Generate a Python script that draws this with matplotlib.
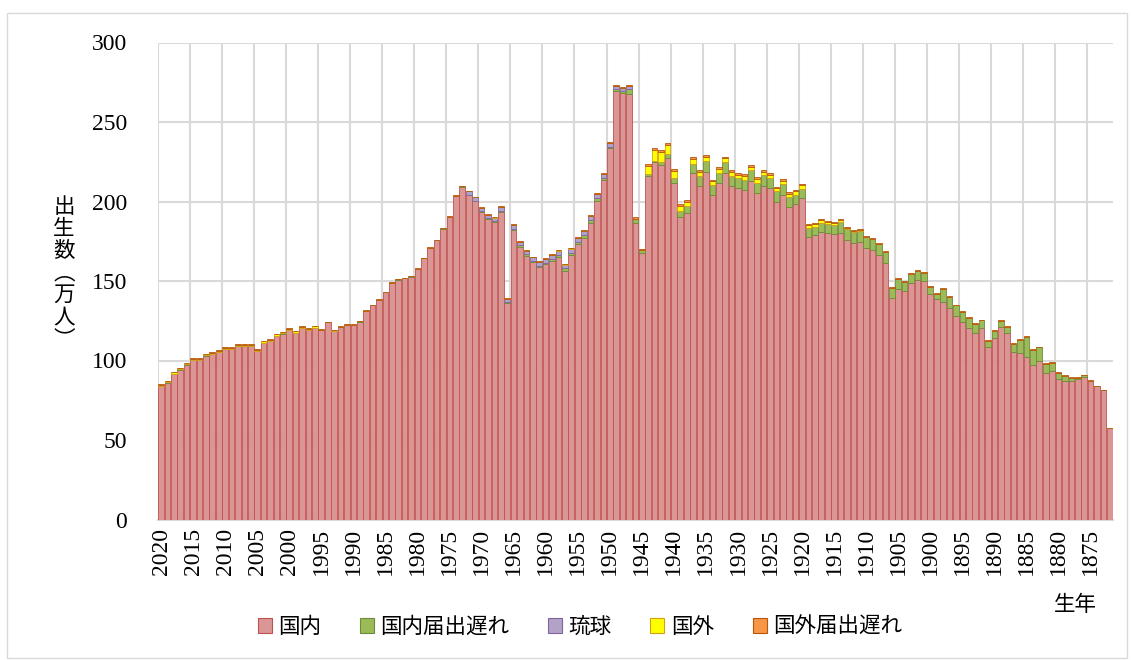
import numpy as np
import matplotlib
matplotlib.use("Agg")
import matplotlib.pyplot as plt
from matplotlib.patches import Rectangle, Patch
from matplotlib.ticker import FixedLocator

# ---------------- data (万人), birth years 2020 -> 1872 ----------------
years = list(range(2020, 1871, -1))

domestic = [  # 国内
    83.8, 86.1, 91.6, 94.3, 97.4, 100.2, 100.2, 103.1, 103.9, 105.2,   # 2020-2011
    107.1, 107.1, 109.0, 109.0, 109.0, 106.0, 111.1, 112.1, 115.5, 116.9,  # 2010-2001
    119.0, 117.4, 120.3, 119.2, 120.5, 119.1, 123.9, 118.7, 121.0, 122.2,  # 2000-1991
    122.2, 124.5, 131.0, 134.6, 138.0, 142.8, 148.7, 150.9, 151.6, 152.8,  # 1990-1981
    157.5, 164.2, 170.7, 175.5, 183.0, 190.2, 203.4, 209.4, 204.0, 200.1,  # 1980-1971
    193.4, 189.0, 187.2, 193.5, 136.0, 182.3, 171.6, 165.8, 161.8, 158.7,  # 1970-1961
    160.4, 162.6, 165.2, 156.6, 166.4, 173.0, 177.2, 186.7, 200.6, 213.7,  # 1960-1951
    233.5, 269.8, 268.2, 267.5, 186.7, 167.4, 215.8, 224.6, 223.0, 227.2,  # 1950-1941
    211.4, 190.3, 192.6, 217.7, 209.9, 218.7, 204.1, 211.8, 217.9, 209.9,  # 1940-1931
    208.3, 207.5, 213.1, 205.5, 209.9, 208.3, 199.4, 203.9, 196.6, 198.7,  # 1930-1921
    202.4, 177.5, 178.9, 181.0, 180.0, 179.6, 180.4, 175.6, 173.7, 174.5,  # 1920-1911
    171.0, 169.5, 166.2, 161.1, 139.1, 145.0, 143.7, 148.7, 150.6, 149.8,  # 1910-1901
    141.6, 138.5, 136.6, 132.8, 128.0, 124.4, 120.2, 117.5, 120.2, 108.5,  # 1900-1891
    114.3, 120.9, 117.1, 105.6, 104.9, 102.2, 97.2, 99.9, 91.9, 93.6,      # 1890-1881
    88.2, 87.3, 87.3, 88.6, 89.8, 87.3, 84.0, 81.4, 57.4,                  # 1880-1872
]

domestic_late = [  # 国内届出遅れ
    0.1, 0.1, 0.1, 0.1, 0.1, 0.1, 0.1, 0.1, 0.1, 0.1,
    0.1, 0.1, 0.1, 0.1, 0.1, 0.1, 0.1, 0.1, 0.1, 0.1,
    0.1, 0.1, 0.1, 0.1, 0.1, 0.1, 0.1, 0.1, 0.1, 0.1,
    0.1, 0.1, 0.1, 0.1, 0.1, 0.1, 0.1, 0.1, 0.1, 0.1,
    0.1, 0.1, 0.1, 0.1, 0.1, 0.1, 0.1, 0.1, 0.3, 0.3,
    0.4, 0.5, 0.5, 0.6, 0.5, 0.7, 0.8, 0.9, 0.9, 1.0,
    1.2, 1.3, 1.4, 1.3, 1.5, 1.6, 1.6, 1.6, 1.5, 1.0,
    1.0, 0.8, 1.2, 3.4, 2.5, 2.0, 1.5, 1.0, 2.1, 2.7,
    3.6, 3.8, 4.4, 5.9, 6.3, 6.9, 6.3, 6.3, 6.7, 6.1,
    6.5, 6.3, 6.9, 6.3, 6.7, 6.5, 6.9, 7.1, 6.1, 5.7,
    5.7, 5.7, 5.1, 5.7, 5.8, 5.8, 6.6, 7.0, 7.2, 7.0,
    6.4, 6.7, 7.0, 7.1, 6.6, 6.4, 5.8, 6.0, 5.8, 5.4,
    4.8, 3.6, 8.5, 7.3, 6.6, 6.0, 6.5, 5.6, 5.0, 3.9,
    4.4, 4.1, 4.1, 4.7, 8.3, 12.7, 9.5, 8.3, 6.2, 5.1,
    3.9, 3.1, 1.6, 0.7, 0.8, 0.0, 0.0, 0.0, 0.0,
]

ryukyu = [  # 琉球
    0, 0, 0, 0, 0, 0, 0, 0, 0, 0,
    0, 0, 0, 0, 0, 0, 0, 0, 0, 0,
    0, 0, 0, 0, 0, 0, 0, 0, 0, 0,
    0, 0, 0, 0, 0, 0, 0, 0, 0, 0,
    0, 0, 0, 0, 0, 0, 0, 0, 2.0, 2.2,
    2.2, 2.2, 2.2, 2.3, 2.0, 2.2, 2.2, 2.2, 2.2, 2.3,
    2.3, 2.5, 2.5, 2.4, 2.5, 2.5, 2.7, 2.6, 2.7, 2.6,
    2.5, 2.3, 2.0, 1.8, 0, 0, 0, 0, 0, 0,
    0, 0, 0, 0, 0, 0, 0, 0, 0, 0,
    0, 0, 0, 0, 0, 0, 0, 0, 0, 0,
    0, 0, 0, 0, 0, 0, 0, 0, 0, 0,
    0, 0, 0, 0, 0, 0, 0, 0, 0, 0,
    0, 0, 0, 0, 0, 0, 0, 0, 0, 0,
    0, 0, 0, 0, 0, 0, 0, 0, 0, 0,
    0, 0, 0, 0, 0, 0, 0, 0, 0,
]

abroad = [  # 国外
    0.8, 0.8, 0.8, 0.8, 0.8, 0.8, 0.8, 0.8, 0.8, 0.8,
    0.8, 0.8, 0.8, 0.8, 0.8, 0.8, 0.8, 0.8, 0.8, 0.8,
    0.8, 0.8, 0.8, 0.8, 0.8, 0.1, 0.1, 0.1, 0.1, 0.1,
    0.1, 0.1, 0.1, 0.1, 0.1, 0.1, 0.1, 0.1, 0.1, 0.1,
    0.1, 0.1, 0.1, 0.1, 0.1, 0.1, 0.1, 0.1, 0.1, 0.1,
    0.1, 0.1, 0.1, 0.1, 0.1, 0.1, 0.1, 0.1, 0.1, 0.1,
    0.1, 0.1, 0.1, 0.1, 0.1, 0.1, 0.1, 0.1, 0.1, 0.1,
    0.1, 0.0, 0.0, 0.0, 0.0, 0.0, 5.2, 6.9, 6.3, 5.7,
    4.4, 3.1, 2.7, 3.1, 2.5, 2.3, 2.3, 2.3, 2.5, 2.5,
    2.1, 2.1, 1.7, 2.3, 1.9, 1.9, 2.1, 1.9, 2.3, 1.9,
    2.1, 1.9, 1.7, 1.5, 1.5, 1.3, 1.2, 0.8, 0.6, 0.6,
    0.3, 0.2, 0.1, 0.1, 0, 0, 0, 0, 0, 0,
    0, 0, 0, 0, 0, 0, 0, 0, 0, 0,
    0, 0, 0, 0, 0, 0, 0, 0, 0, 0,
    0, 0, 0, 0, 0, 0, 0, 0, 0,
]

abroad_late = [  # 国外届出遅れ
    0.3, 0.3, 0.3, 0.3, 0.3, 0.3, 0.3, 0.3, 0.3, 0.3,
    0.3, 0.3, 0.3, 0.3, 0.3, 0.3, 0.3, 0.3, 0.3, 0.3,
    0.3, 0.3, 0.3, 0.3, 0.3, 0.3, 0.3, 0.3, 0.3, 0.3,
    0.3, 0.3, 0.3, 0.3, 0.3, 0.3, 0.3, 0.3, 0.3, 0.3,
    0.3, 0.3, 0.3, 0.3, 0.3, 0.3, 0.3, 0.3, 0.4, 0.4,
    0.4, 0.4, 0.4, 0.4, 0.4, 0.4, 0.4, 0.4, 0.4, 0.4,
    0.4, 0.4, 0.4, 0.4, 0.4, 0.4, 0.4, 0.4, 0.4, 0.4,
    0.4, 0.4, 0.4, 0.4, 0.9, 0.8, 0.9, 0.9, 0.8, 1.0,
    1.0, 1.0, 1.1, 1.1, 1.1, 1.2, 1.0, 1.1, 1.1, 1.1,
    1.0, 1.1, 1.1, 1.1, 1.1, 1.0, 0.6, 1.1, 0.9, 0.9,
    0.6, 0.6, 0.6, 0.6, 0.6, 0.6, 0.6, 0.6, 0.6, 0.6,
    0.6, 0.6, 0.6, 0.6, 0.5, 0.5, 0.5, 0.5, 0.5, 0.5,
    0.5, 0.5, 0.5, 0.5, 0.5, 0.5, 0.5, 0.5, 0.5, 0.5,
    0.5, 0.5, 0.5, 0.5, 0.5, 0.5, 0.5, 0.5, 0.5, 0.5,
    0.5, 0.5, 0.5, 0.5, 0.5, 0.4, 0.0, 0.0, 0.0,
]

series_names = ["国内", "国内届出遅れ", "琉球", "国外", "国外届出遅れ"]
tick_years = [2020, 2015, 2010, 2005, 2000, 1995, 1990, 1985, 1980, 1975,
              1970, 1965, 1960, 1955, 1950, 1945, 1940, 1935, 1930, 1925,
              1920, 1915, 1910, 1905, 1900, 1895, 1890, 1885, 1880, 1875]
y_ticks = [0, 50, 100, 150, 200, 250, 300]

# ---------------- styling ----------------
fills = ["#DA9694", "#9BBB59", "#B3A2C7", "#FFFF00", "#F79646"]
edges = ["#C0504D", "#6E8B3D", "#8064A2", "#D4A017", "#B65708"]
CJK = ["Noto Sans CJK JP", "DejaVu Sans"]
SERIF = ["Liberation Serif", "DejaVu Serif"]

W, H = 1131, 660
fig = plt.figure(figsize=(W / 100, H / 100), dpi=100)
fig.patch.set_facecolor("white")

ax_l, ax_r, ax_t, ax_b = 157.8, 1113.0, 42.5, 519.5
ax = fig.add_axes([ax_l / W, 1 - ax_b / H, (ax_r - ax_l) / W, (ax_b - ax_t) / H])

x = np.arange(len(years))
bottom = np.zeros(len(years))
handles = []
for vals, fc, ec, name in zip([domestic, domestic_late, ryukyu, abroad, abroad_late],
                              fills, edges, series_names):
    v = np.array(vals, dtype=float)
    ax.bar(x, v, bottom=bottom, width=0.88, color=fc, edgecolor=ec,
           linewidth=0.6, zorder=3)
    bottom = bottom + v
    handles.append(Patch(facecolor=fc, edgecolor=ec, linewidth=0.8, label=name))

ax.set_xlim(-0.5, len(years) - 0.5)
ax.set_ylim(0, 300)

# grid
ax.set_yticks(y_ticks)
ax.yaxis.grid(True, color="#D9D9D9", linewidth=1.5, zorder=0)
ax.xaxis.set_minor_locator(FixedLocator(np.arange(-0.5, len(years), 5)))
ax.xaxis.grid(True, which="minor", color="#D9D9D9", linewidth=1.5, zorder=0)
ax.xaxis.grid(False, which="major")
ax.set_axisbelow(True)

tick_pos = [years.index(yv) for yv in tick_years]
ax.set_xticks(tick_pos)
ax.set_xticklabels([str(t) for t in tick_years], rotation=90,
                   fontsize=17, family=SERIF, va="top")
ax.set_yticklabels([str(t) for t in y_ticks], fontsize=17, family=SERIF)
ax.tick_params(axis="x", which="both", length=0, pad=6)
ax.tick_params(axis="y", length=0, pad=22)

for s in ["top", "right", "left"]:
    ax.spines[s].set_visible(False)
ax.spines["bottom"].set_color("#D9D9D9")
ax.spines["bottom"].set_linewidth(1.5)

# y label (vertical stacked)
fig.text(64 / W, 1 - 273 / H, "出\n生\n数\n︵\n万\n人\n︶", family=CJK,
         fontsize=15.5, ha="center", va="center", linespacing=1.0)

# x label
fig.text(1075 / W, 1 - 605 / H, "生年", family=CJK, fontsize=15.5,
         ha="center", va="center")

# legend
leg = fig.legend(handles=handles, loc="center", bbox_to_anchor=(580 / W, 1 - 627 / H),
                 ncol=5, frameon=False, prop={"family": CJK, "size": 15.5},
                 handlelength=0.65, handleheight=0.65, handletextpad=0.3,
                 columnspacing=1.8)

# chart-area border
fig.add_artist(Rectangle((7 / W, 1 - 658 / H), (1127 - 7) / W, (658 - 13) / H,
                         transform=fig.transFigure, fill=False,
                         edgecolor="#D9D9D9", linewidth=1.0))

fig.savefig("out.png", dpi=100)
